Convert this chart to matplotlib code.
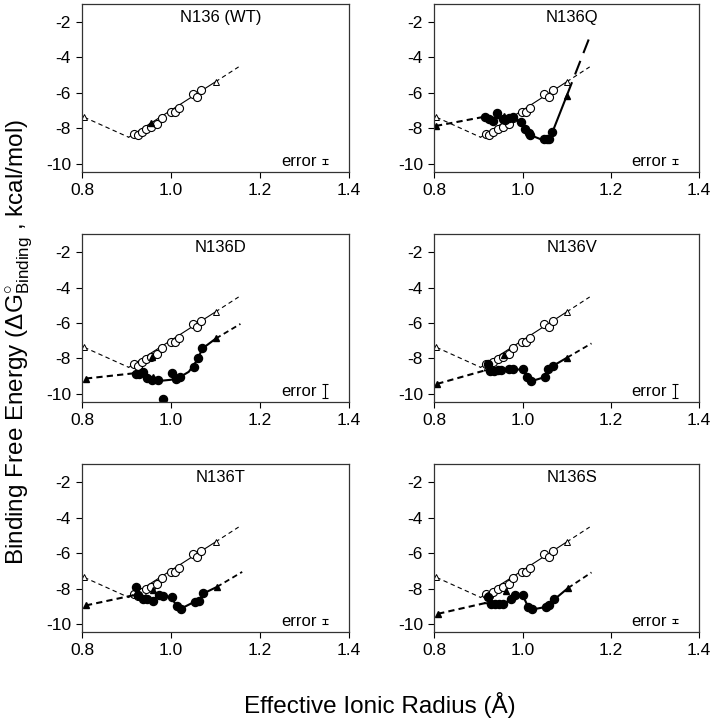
import matplotlib.pyplot as plt

plt.rcParams['font.family'] = ['Liberation Sans', 'DejaVu Sans']
plt.rcParams['mathtext.fontset'] = 'custom'
plt.rcParams['mathtext.rm'] = 'Liberation Sans'
plt.rcParams['mathtext.it'] = 'Liberation Sans:italic'
plt.rcParams['axes.unicode_minus'] = False

# wild type reference (open circles), repeated in every panel
WT_X = [0.917, 0.925, 0.934, 0.944, 0.956, 0.969, 0.979, 0.999, 1.008, 1.017, 1.049, 1.059, 1.068]
WT_Y = [-8.31, -8.40, -8.22, -8.03, -7.90, -7.75, -7.43, -7.06, -7.09, -6.85, -6.06, -6.23, -5.86]
WT_FIT_X = [0.905, 1.100]
WT_FIT_Y = [-8.50, -5.37]
WT_LEFT_X = [0.805, 0.905]
WT_LEFT_Y = [-7.37, -8.50]
WT_EXT_X = [1.100, 1.152]
WT_EXT_Y = [-5.37, -4.53]
WT_TRI_X = [0.805, 1.100]
WT_TRI_Y = [-7.37, -5.37]

# N136Q
Q_X = [0.915, 0.924, 0.934, 0.943, 0.956, 0.961, 0.970, 0.979, 0.996, 1.005, 1.015, 1.017, 1.048, 1.056, 1.060, 1.067]
Q_Y = [-7.34, -7.45, -7.60, -7.11, -7.45, -7.52, -7.43, -7.37, -7.62, -8.03, -8.27, -8.40, -8.61, -8.61, -8.61, -8.20]
Q_FIT_X = [0.912, 0.940, 0.970, 0.990, 1.000, 1.010, 1.020, 1.040, 1.060, 1.067, 1.100]
Q_FIT_Y = [-7.35, -7.42, -7.45, -7.55, -7.85, -8.20, -8.40, -8.60, -8.60, -8.25, -6.16]
Q_TRI_X = [0.804, 1.100]
Q_TRI_Y = [-7.86, -6.16]
Q_EXT_END = (1.152, -2.84)

# N136D
D_X = [0.921, 0.928, 0.937, 0.946, 0.958, 0.971, 0.981, 1.002, 1.011, 1.020, 1.051, 1.061, 1.070]
D_Y = [-8.86, -8.90, -8.79, -9.09, -9.24, -9.24, -10.29, -8.84, -9.17, -9.03, -8.48, -7.97, -7.40]
D_FIT_X = [0.915, 0.940, 0.960, 0.980, 1.000, 1.020, 1.040, 1.060, 1.070, 1.101]
D_FIT_Y = [-8.84, -8.95, -9.18, -9.25, -9.20, -9.05, -8.75, -8.05, -7.45, -6.87]
D_TRI_X = [0.809, 1.101]
D_TRI_Y = [-9.13, -6.87]
D_EXT_END = (1.156, -6.05)

# N136V
V_X = [0.921, 0.926, 0.936, 0.945, 0.952, 0.970, 0.979, 1.000, 1.009, 1.019, 1.051, 1.058, 1.068]
V_Y = [-8.29, -8.71, -8.71, -8.67, -8.67, -8.62, -8.62, -8.62, -9.03, -9.28, -9.03, -8.62, -8.43]
V_FIT_X = [0.915, 0.930, 0.950, 0.970, 0.990, 1.000, 1.010, 1.020, 1.050, 1.058, 1.068, 1.101]
V_FIT_Y = [-8.67, -8.68, -8.67, -8.63, -8.62, -8.65, -9.00, -9.28, -9.05, -8.62, -8.43, -7.95]
V_TRI_X = [0.807, 1.101]
V_TRI_Y = [-9.43, -7.95]
V_EXT_END = (1.156, -7.15)

# N136T
T_X = [0.921, 0.926, 0.937, 0.947, 0.960, 0.973, 0.983, 1.002, 1.013, 1.022, 1.053, 1.062, 1.073]
T_Y = [-7.91, -8.38, -8.57, -8.61, -8.72, -8.38, -8.42, -8.48, -8.99, -9.14, -8.76, -8.72, -8.25]
T_FIT_X = [0.915, 0.930, 0.950, 0.960, 0.970, 0.985, 1.000, 1.012, 1.022, 1.050, 1.062, 1.075, 1.103]
T_FIT_Y = [-8.38, -8.50, -8.62, -8.70, -8.42, -8.42, -8.48, -8.95, -9.14, -8.78, -8.72, -8.25, -7.91]
T_TRI_X = [0.809, 1.103]
T_TRI_Y = [-8.95, -7.91]
T_EXT_END = (1.160, -7.06)

# N136S
S_X = [0.921, 0.928, 0.937, 0.947, 0.956, 0.973, 0.983, 1.002, 1.013, 1.022, 1.052, 1.060, 1.072]
S_Y = [-8.48, -8.86, -8.86, -8.89, -8.89, -8.57, -8.34, -8.34, -9.05, -9.18, -9.05, -8.91, -8.57]
S_FIT_X = [0.915, 0.930, 0.950, 0.960, 0.970, 0.980, 1.000, 1.012, 1.022, 1.050, 1.062, 1.075, 1.103]
S_FIT_Y = [-8.82, -8.86, -8.89, -8.89, -8.60, -8.36, -8.36, -9.00, -9.18, -9.05, -8.90, -8.55, -7.97]
S_TRI_X = [0.809, 1.103]
S_TRI_Y = [-9.42, -7.97]
S_EXT_END = (1.156, -7.09)

# small filled triangles near x = 0.96
MID_TRI = {
    'N136 (WT)': ([0.956], [-7.71]),
    'N136Q': ([0.957], [-7.30]),
    'N136D': ([0.958, 0.960], [-7.89, -9.02]),
    'N136V': ([0.958], [-7.80]),
    'N136T': ([0.960], [-8.10]),
    'N136S': ([0.962], [-8.16]),
}

ERRORS = {'N136 (WT)': 0.15, 'N136Q': 0.15, 'N136D': 0.4,
          'N136V': 0.4, 'N136T': 0.15, 'N136S': 0.12}

MUTANTS = {
    'N136Q': (Q_X, Q_Y, Q_FIT_X, Q_FIT_Y, Q_TRI_X, Q_TRI_Y, Q_EXT_END),
    'N136D': (D_X, D_Y, D_FIT_X, D_FIT_Y, D_TRI_X, D_TRI_Y, D_EXT_END),
    'N136V': (V_X, V_Y, V_FIT_X, V_FIT_Y, V_TRI_X, V_TRI_Y, V_EXT_END),
    'N136T': (T_X, T_Y, T_FIT_X, T_FIT_Y, T_TRI_X, T_TRI_Y, T_EXT_END),
    'N136S': (S_X, S_Y, S_FIT_X, S_FIT_Y, S_TRI_X, S_TRI_Y, S_EXT_END),
}

PANELS = ['N136 (WT)', 'N136Q', 'N136D', 'N136V', 'N136T', 'N136S']

fig = plt.figure(figsize=(7.13, 7.19), dpi=100)
lefts = [0.115, 0.609]
widths = [0.3745, 0.3717]
bottoms = [0.761, 0.441, 0.121]

for i, name in enumerate(PANELS):
    row, col = divmod(i, 2)
    ax = fig.add_axes([lefts[col], bottoms[row], widths[col], 0.233])

    # wild type
    ax.plot(WT_LEFT_X, WT_LEFT_Y, color='k', lw=0.8, ls=(0, (4, 3)))
    ax.plot(WT_EXT_X, WT_EXT_Y, color='k', lw=0.8, ls=(0, (4, 3)))
    ax.plot(WT_FIT_X, WT_FIT_Y, color='k', lw=0.8)
    ax.plot(WT_X, WT_Y, 'o', mfc='white', mec='k', mew=0.8, ms=5.8)
    ax.plot(WT_TRI_X, WT_TRI_Y, '^', mfc='white', mec='k', mew=0.7, ms=4)

    if name in MUTANTS:
        x, y, fx, fy, tx, ty, ext = MUTANTS[name]
        ax.plot([tx[0], fx[0]], [ty[0], fy[0]], color='k', lw=1.5, ls=(0, (3, 2)))
        if name == 'N136Q':
            ax.plot([tx[1], ext[0]], [ty[1], ext[1]], color='k', lw=1.5, ls=(0, (7, 4)))
        else:
            ax.plot([tx[1], ext[0]], [ty[1], ext[1]], color='k', lw=1.3, ls=(0, (3, 2)))
        ax.plot(fx, fy, color='k', lw=1.5)
        ax.plot(x, y, 'o', color='k', ms=5.8)
        ax.plot(tx, ty, '^', color='k', ms=4)

    mx, my = MID_TRI[name]
    ax.plot(mx, my, '^', color='k', ms=4)

    ax.text(0.52, 0.92, name, transform=ax.transAxes, ha='center', va='center', fontsize=12)
    ax.text(1.327, -9.85, 'error', ha='right', va='center', fontsize=12)
    ax.errorbar([1.345], [-9.85], yerr=ERRORS[name], fmt='none', ecolor='k',
                elinewidth=0.8, capsize=2.5, capthick=0.8)

    ax.set_xlim(0.8, 1.4)
    ax.set_ylim(-10.45, -1.0)
    ax.set_xticks([0.8, 1.0, 1.2, 1.4])
    ax.set_xticklabels(['0.8', '1.0', '1.2', '1.4'])
    ax.set_yticks([-2, -4, -6, -8, -10])
    ax.tick_params(direction='out', length=4, width=0.8, labelsize=12.5, pad=4)
    for sp in ax.spines.values():
        sp.set_linewidth(0.9)
        sp.set_color('#333333')

fig.text(0.026, 0.525, r'Binding Free Energy ($\Delta\mathrm{G}^{\circ}_{\mathrm{Binding}}$ , kcal/mol)',
         rotation=90, ha='center', va='center', fontsize=17.5)
fig.text(0.533, 0.02, 'Effective Ionic Radius (Å)', ha='center', va='center', fontsize=17.5)

fig.savefig('out.png', dpi=100)
